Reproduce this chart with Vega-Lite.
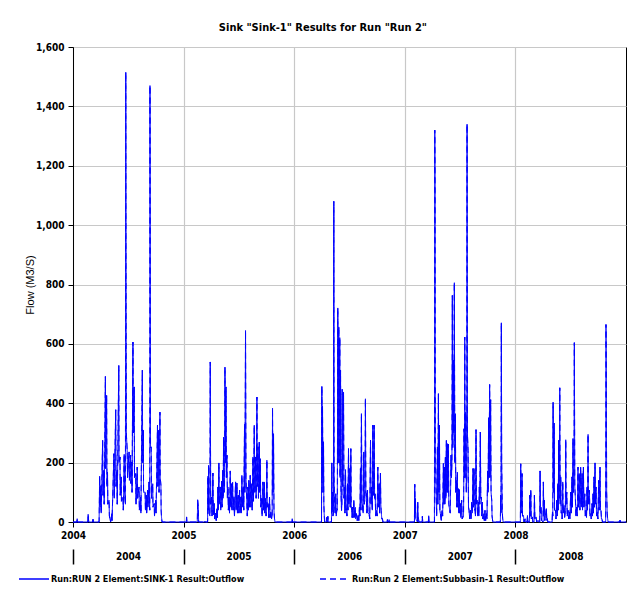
{
  "$schema": "https://vega.github.io/schema/vega-lite/v6.json",
  "width": 553,
  "height": 475,
  "autosize": {"type": "none"},
  "padding": {"left": 73, "top": 47, "right": 14, "bottom": 85},
  "background": "white",
  "title": {
    "text": "Sink \"Sink-1\" Results for Run \"Run 2\"",
    "font": "DejaVu Sans Condensed, Liberation Sans, sans-serif",
    "fontSize": 11,
    "fontWeight": "bold",
    "color": "black",
    "anchor": "middle",
    "frame": "bounds",
    "offset": 9
  },
  "data": {
    "values": [
      {"t":2004.000,"f":0},{"t":2004.035,"f":0},{"t":2004.038,"f":11},{"t":2004.041,"f":0},{"t":2004.134,"f":0},{"t":2004.137,"f":26},{"t":2004.142,"f":0},{"t":2004.178,"f":0},{"t":2004.181,"f":9},{"t":2004.184,"f":0},
      {"t":2004.236,"f":0},{"t":2004.241,"f":154},{"t":2004.244,"f":50},{"t":2004.252,"f":123},{"t":2004.255,"f":30},{"t":2004.268,"f":275},{"t":2004.271,"f":90},{"t":2004.279,"f":174},{"t":2004.282,"f":60},{"t":2004.293,"f":490},{"t":2004.296,"f":180},{"t":2004.304,"f":427},{"t":2004.307,"f":120},{"t":2004.312,"f":168},{"t":2004.315,"f":60},{"t":2004.326,"f":73},{"t":2004.329,"f":20},{"t":2004.340,"f":0},{"t":2004.351,"f":28},{"t":2004.353,"f":5},{"t":2004.370,"f":230},{"t":2004.373,"f":80},{"t":2004.386,"f":378},{"t":2004.389,"f":120},{"t":2004.397,"f":174},{"t":2004.400,"f":60},{"t":2004.414,"f":527},{"t":2004.416,"f":200},{"t":2004.425,"f":219},{"t":2004.427,"f":90},{"t":2004.436,"f":152},{"t":2004.438,"f":70},{"t":2004.452,"f":84},{"t":2004.455,"f":40},{"t":2004.463,"f":228},{"t":2004.466,"f":100},{"t":2004.474,"f":60},{"t":2004.477,"f":1515},{"t":2004.479,"f":970},{"t":2004.482,"f":300},{"t":2004.490,"f":241},{"t":2004.493,"f":150},{"t":2004.507,"f":236},{"t":2004.510,"f":140},{"t":2004.521,"f":225},{"t":2004.523,"f":130},{"t":2004.532,"f":202},{"t":2004.534,"f":100},{"t":2004.542,"f":606},{"t":2004.545,"f":300},{"t":2004.553,"f":455},{"t":2004.556,"f":150},{"t":2004.567,"f":163},{"t":2004.570,"f":60},{"t":2004.581,"f":185},{"t":2004.584,"f":80},{"t":2004.597,"f":118},{"t":2004.600,"f":40},{"t":2004.611,"f":84},{"t":2004.614,"f":30},{"t":2004.627,"f":511},{"t":2004.630,"f":200},{"t":2004.636,"f":309},{"t":2004.638,"f":100},{"t":2004.652,"f":101},{"t":2004.655,"f":40},{"t":2004.663,"f":90},{"t":2004.666,"f":30},{"t":2004.674,"f":107},{"t":2004.677,"f":50},{"t":2004.688,"f":135},{"t":2004.690,"f":60},{"t":2004.694,"f":40},{"t":2004.696,"f":1470},{"t":2004.699,"f":783},{"t":2004.701,"f":250},{"t":2004.707,"f":253},{"t":2004.710,"f":80},{"t":2004.721,"f":129},{"t":2004.723,"f":50},{"t":2004.734,"f":62},{"t":2004.737,"f":20},{"t":2004.748,"f":73},{"t":2004.751,"f":30},{"t":2004.764,"f":326},{"t":2004.767,"f":120},{"t":2004.775,"f":309},{"t":2004.778,"f":100},{"t":2004.786,"f":370},{"t":2004.789,"f":150},{"t":2004.795,"f":123},{"t":2004.797,"f":40},{"t":2004.800,"f":17},{"t":2004.805,"f":0},
      {"t":2005.000,"f":0},{"t":2005.024,"f":0},{"t":2005.027,"f":17},{"t":2005.030,"f":0},{"t":2005.124,"f":0},{"t":2005.127,"f":75},{"t":2005.133,"f":50},{"t":2005.136,"f":0},{"t":2005.191,"f":0},{"t":2005.193,"f":3},{"t":2005.196,"f":0},
      {"t":2005.217,"f":0},{"t":2005.220,"f":154},{"t":2005.223,"f":40},{"t":2005.226,"f":191},{"t":2005.230,"f":30},{"t":2005.238,"f":20},{"t":2005.241,"f":539},{"t":2005.245,"f":60},{"t":2005.253,"f":84},{"t":2005.257,"f":20},{"t":2005.265,"f":165},{"t":2005.269,"f":25},{"t":2005.277,"f":62},{"t":2005.281,"f":10},{"t":2005.289,"f":30},{"t":2005.295,"f":5},{"t":2005.302,"f":45},{"t":2005.306,"f":15},{"t":2005.310,"f":118},{"t":2005.314,"f":40},{"t":2005.319,"f":199},{"t":2005.323,"f":60},{"t":2005.332,"f":118},{"t":2005.336,"f":40},{"t":2005.344,"f":138},{"t":2005.348,"f":50},{"t":2005.353,"f":174},{"t":2005.357,"f":80},{"t":2005.362,"f":286},{"t":2005.366,"f":100},{"t":2005.370,"f":120},{"t":2005.374,"f":522},{"t":2005.378,"f":200},{"t":2005.383,"f":455},{"t":2005.387,"f":150},{"t":2005.392,"f":225},{"t":2005.396,"f":80},{"t":2005.401,"f":118},{"t":2005.405,"f":40},{"t":2005.410,"f":84},{"t":2005.415,"f":30},{"t":2005.422,"f":172},{"t":2005.426,"f":50},{"t":2005.431,"f":129},{"t":2005.436,"f":40},{"t":2005.443,"f":134},{"t":2005.448,"f":40},{"t":2005.455,"f":84},{"t":2005.460,"f":20},{"t":2005.470,"f":135},{"t":2005.475,"f":40},{"t":2005.482,"f":131},{"t":2005.487,"f":30},{"t":2005.494,"f":90},{"t":2005.499,"f":30},{"t":2005.506,"f":107},{"t":2005.511,"f":30},{"t":2005.518,"f":84},{"t":2005.522,"f":30},{"t":2005.527,"f":157},{"t":2005.532,"f":50},{"t":2005.539,"f":118},{"t":2005.544,"f":40},{"t":2005.551,"f":329},{"t":2005.554,"f":100},{"t":2005.560,"f":645},{"t":2005.564,"f":150},{"t":2005.572,"f":62},{"t":2005.576,"f":20},{"t":2005.581,"f":118},{"t":2005.585,"f":40},{"t":2005.590,"f":140},{"t":2005.595,"f":50},{"t":2005.603,"f":157},{"t":2005.608,"f":50},{"t":2005.615,"f":129},{"t":2005.620,"f":40},{"t":2005.627,"f":219},{"t":2005.632,"f":70},{"t":2005.639,"f":326},{"t":2005.644,"f":100},{"t":2005.651,"f":219},{"t":2005.656,"f":80},{"t":2005.663,"f":421},{"t":2005.667,"f":120},{"t":2005.672,"f":253},{"t":2005.677,"f":80},{"t":2005.684,"f":269},{"t":2005.688,"f":100},{"t":2005.693,"f":213},{"t":2005.698,"f":50},{"t":2005.705,"f":79},{"t":2005.710,"f":20},{"t":2005.717,"f":135},{"t":2005.722,"f":40},{"t":2005.729,"f":135},{"t":2005.734,"f":30},{"t":2005.741,"f":79},{"t":2005.746,"f":20},{"t":2005.753,"f":208},{"t":2005.757,"f":50},{"t":2005.765,"f":62},{"t":2005.770,"f":15},{"t":2005.777,"f":84},{"t":2005.782,"f":15},{"t":2005.789,"f":34},{"t":2005.795,"f":10},{"t":2005.801,"f":20},{"t":2005.804,"f":384},{"t":2005.808,"f":100},{"t":2005.813,"f":297},{"t":2005.817,"f":40},{"t":2005.822,"f":11},{"t":2005.826,"f":0},{"t":2005.979,"f":0},{"t":2005.982,"f":11},{"t":2005.985,"f":0},
      {"t":2006.000,"f":0},{"t":2006.247,"f":0},{"t":2006.250,"f":457},{"t":2006.253,"f":150},{"t":2006.256,"f":390},{"t":2006.260,"f":100},{"t":2006.265,"f":270},{"t":2006.268,"f":60},{"t":2006.271,"f":28},{"t":2006.275,"f":0},{"t":2006.290,"f":0},{"t":2006.292,"f":15},{"t":2006.296,"f":0},{"t":2006.302,"f":0},{"t":2006.304,"f":19},{"t":2006.308,"f":0},{"t":2006.337,"f":0},{"t":2006.340,"f":199},{"t":2006.343,"f":40},{"t":2006.346,"f":101},{"t":2006.350,"f":20},{"t":2006.355,"f":30},{"t":2006.358,"f":1080},{"t":2006.361,"f":150},{"t":2006.365,"f":60},{"t":2006.370,"f":30},{"t":2006.376,"f":95},{"t":2006.380,"f":20},{"t":2006.385,"f":39},{"t":2006.390,"f":40},{"t":2006.394,"f":721},{"t":2006.397,"f":200},{"t":2006.403,"f":657},{"t":2006.406,"f":200},{"t":2006.412,"f":621},{"t":2006.415,"f":150},{"t":2006.419,"f":511},{"t":2006.423,"f":100},{"t":2006.428,"f":39},{"t":2006.431,"f":60},{"t":2006.434,"f":447},{"t":2006.438,"f":120},{"t":2006.446,"f":438},{"t":2006.450,"f":80},{"t":2006.455,"f":118},{"t":2006.459,"f":30},{"t":2006.464,"f":176},{"t":2006.468,"f":40},{"t":2006.473,"f":45},{"t":2006.477,"f":20},{"t":2006.482,"f":129},{"t":2006.486,"f":40},{"t":2006.491,"f":247},{"t":2006.495,"f":60},{"t":2006.503,"f":180},{"t":2006.507,"f":50},{"t":2006.512,"f":247},{"t":2006.516,"f":50},{"t":2006.521,"f":39},{"t":2006.524,"f":15},{"t":2006.527,"f":50},{"t":2006.532,"f":15},{"t":2006.539,"f":73},{"t":2006.544,"f":15},{"t":2006.551,"f":50},{"t":2006.556,"f":10},{"t":2006.563,"f":28},{"t":2006.570,"f":5},{"t":2006.578,"f":22},{"t":2006.584,"f":5},{"t":2006.590,"f":50},{"t":2006.594,"f":20},{"t":2006.599,"f":180},{"t":2006.603,"f":40},{"t":2006.608,"f":365},{"t":2006.612,"f":80},{"t":2006.620,"f":39},{"t":2006.624,"f":30},{"t":2006.629,"f":236},{"t":2006.634,"f":60},{"t":2006.640,"f":80},{"t":2006.644,"f":415},{"t":2006.648,"f":100},{"t":2006.653,"f":95},{"t":2006.657,"f":30},{"t":2006.662,"f":107},{"t":2006.667,"f":30},{"t":2006.677,"f":28},{"t":2006.683,"f":10},{"t":2006.690,"f":275},{"t":2006.695,"f":60},{"t":2006.702,"f":118},{"t":2006.706,"f":40},{"t":2006.711,"f":326},{"t":2006.716,"f":90},{"t":2006.723,"f":326},{"t":2006.727,"f":80},{"t":2006.732,"f":95},{"t":2006.737,"f":20},{"t":2006.744,"f":39},{"t":2006.750,"f":20},{"t":2006.756,"f":185},{"t":2006.760,"f":50},{"t":2006.768,"f":129},{"t":2006.772,"f":30},{"t":2006.780,"f":165},{"t":2006.783,"f":60},{"t":2006.786,"f":39},{"t":2006.792,"f":10},{"t":2006.798,"f":11},{"t":2006.802,"f":0},{"t":2006.840,"f":0},{"t":2006.843,"f":8},{"t":2006.847,"f":0},{"t":2006.855,"f":0},{"t":2006.858,"f":8},{"t":2006.862,"f":0},
      {"t":2007.000,"f":0},{"t":2007.087,"f":0},{"t":2007.090,"f":127},{"t":2007.093,"f":30},{"t":2007.096,"f":79},{"t":2007.100,"f":10},{"t":2007.114,"f":0},{"t":2007.117,"f":67},{"t":2007.120,"f":10},{"t":2007.123,"f":15},{"t":2007.127,"f":0},{"t":2007.156,"f":0},{"t":2007.159,"f":19},{"t":2007.162,"f":0},{"t":2007.213,"f":0},{"t":2007.216,"f":21},{"t":2007.219,"f":0},{"t":2007.268,"f":0},{"t":2007.271,"f":1320},{"t":2007.274,"f":1110},{"t":2007.277,"f":200},{"t":2007.283,"f":87},{"t":2007.288,"f":20},{"t":2007.295,"f":253},{"t":2007.299,"f":60},{"t":2007.304,"f":432},{"t":2007.308,"f":100},{"t":2007.313,"f":326},{"t":2007.317,"f":40},{"t":2007.322,"f":28},{"t":2007.330,"f":5},{"t":2007.337,"f":39},{"t":2007.342,"f":20},{"t":2007.349,"f":197},{"t":2007.353,"f":60},{"t":2007.358,"f":185},{"t":2007.362,"f":60},{"t":2007.367,"f":219},{"t":2007.371,"f":80},{"t":2007.376,"f":275},{"t":2007.380,"f":100},{"t":2007.385,"f":264},{"t":2007.389,"f":100},{"t":2007.394,"f":262},{"t":2007.398,"f":60},{"t":2007.406,"f":39},{"t":2007.411,"f":30},{"t":2007.418,"f":225},{"t":2007.422,"f":150},{"t":2007.426,"f":200},{"t":2007.430,"f":763},{"t":2007.434,"f":250},{"t":2007.439,"f":545},{"t":2007.443,"f":300},{"t":2007.448,"f":806},{"t":2007.452,"f":200},{"t":2007.457,"f":365},{"t":2007.461,"f":100},{"t":2007.466,"f":140},{"t":2007.470,"f":50},{"t":2007.475,"f":168},{"t":2007.479,"f":50},{"t":2007.484,"f":112},{"t":2007.488,"f":30},{"t":2007.493,"f":109},{"t":2007.497,"f":30},{"t":2007.502,"f":62},{"t":2007.507,"f":15},{"t":2007.514,"f":73},{"t":2007.519,"f":10},{"t":2007.526,"f":17},{"t":2007.531,"f":20},{"t":2007.536,"f":314},{"t":2007.539,"f":150},{"t":2007.542,"f":623},{"t":2007.546,"f":150},{"t":2007.551,"f":371},{"t":2007.556,"f":100},{"t":2007.560,"f":150},{"t":2007.563,"f":1340},{"t":2007.566,"f":300},{"t":2007.572,"f":241},{"t":2007.576,"f":50},{"t":2007.581,"f":39},{"t":2007.587,"f":10},{"t":2007.593,"f":39},{"t":2007.599,"f":10},{"t":2007.605,"f":67},{"t":2007.610,"f":30},{"t":2007.617,"f":180},{"t":2007.621,"f":50},{"t":2007.626,"f":180},{"t":2007.630,"f":40},{"t":2007.635,"f":42},{"t":2007.639,"f":20},{"t":2007.644,"f":311},{"t":2007.648,"f":60},{"t":2007.653,"f":73},{"t":2007.658,"f":20},{"t":2007.665,"f":67},{"t":2007.669,"f":20},{"t":2007.674,"f":118},{"t":2007.678,"f":60},{"t":2007.683,"f":303},{"t":2007.687,"f":80},{"t":2007.692,"f":84},{"t":2007.696,"f":20},{"t":2007.701,"f":67},{"t":2007.706,"f":10},{"t":2007.713,"f":28},{"t":2007.719,"f":5},{"t":2007.725,"f":39},{"t":2007.731,"f":5},{"t":2007.737,"f":28},{"t":2007.743,"f":10},{"t":2007.749,"f":172},{"t":2007.753,"f":100},{"t":2007.758,"f":351},{"t":2007.762,"f":150},{"t":2007.767,"f":463},{"t":2007.771,"f":150},{"t":2007.776,"f":412},{"t":2007.780,"f":100},{"t":2007.786,"f":73},{"t":2007.789,"f":20},{"t":2007.792,"f":11},{"t":2007.796,"f":0},{"t":2007.864,"f":0},{"t":2007.867,"f":90},{"t":2007.870,"f":30},{"t":2007.873,"f":671},{"t":2007.876,"f":200},{"t":2007.879,"f":118},{"t":2007.882,"f":30},{"t":2007.885,"f":11},{"t":2007.889,"f":0},
      {"t":2008.000,"f":0},{"t":2008.045,"f":0},{"t":2008.048,"f":196},{"t":2008.052,"f":30},{"t":2008.060,"f":163},{"t":2008.064,"f":20},{"t":2008.073,"f":22},{"t":2008.078,"f":0},{"t":2008.088,"f":11},{"t":2008.092,"f":0},{"t":2008.106,"f":0},{"t":2008.109,"f":22},{"t":2008.113,"f":0},{"t":2008.127,"f":0},{"t":2008.130,"f":90},{"t":2008.134,"f":20},{"t":2008.139,"f":107},{"t":2008.143,"f":10},{"t":2008.154,"f":17},{"t":2008.158,"f":0},{"t":2008.169,"f":0},{"t":2008.172,"f":90},{"t":2008.176,"f":10},{"t":2008.187,"f":17},{"t":2008.192,"f":0},{"t":2008.205,"f":6},{"t":2008.210,"f":0},{"t":2008.220,"f":0},{"t":2008.223,"f":172},{"t":2008.227,"f":30},{"t":2008.232,"f":50},{"t":2008.236,"f":5},{"t":2008.250,"f":0},{"t":2008.253,"f":135},{"t":2008.257,"f":20},{"t":2008.262,"f":73},{"t":2008.266,"f":5},{"t":2008.280,"f":45},{"t":2008.284,"f":5},{"t":2008.289,"f":11},{"t":2008.293,"f":0},{"t":2008.332,"f":0},{"t":2008.335,"f":34},{"t":2008.338,"f":20},{"t":2008.341,"f":403},{"t":2008.345,"f":100},{"t":2008.350,"f":333},{"t":2008.354,"f":40},{"t":2008.362,"f":39},{"t":2008.367,"f":10},{"t":2008.374,"f":73},{"t":2008.378,"f":20},{"t":2008.383,"f":129},{"t":2008.387,"f":40},{"t":2008.392,"f":275},{"t":2008.396,"f":80},{"t":2008.401,"f":452},{"t":2008.405,"f":60},{"t":2008.410,"f":152},{"t":2008.414,"f":30},{"t":2008.419,"f":34},{"t":2008.423,"f":10},{"t":2008.428,"f":135},{"t":2008.432,"f":30},{"t":2008.440,"f":56},{"t":2008.445,"f":15},{"t":2008.452,"f":40},{"t":2008.455,"f":277},{"t":2008.459,"f":60},{"t":2008.464,"f":101},{"t":2008.469,"f":20},{"t":2008.476,"f":39},{"t":2008.481,"f":10},{"t":2008.488,"f":34},{"t":2008.493,"f":10},{"t":2008.500,"f":101},{"t":2008.505,"f":30},{"t":2008.512,"f":152},{"t":2008.516,"f":50},{"t":2008.521,"f":281},{"t":2008.525,"f":100},{"t":2008.530,"f":150},{"t":2008.533,"f":604},{"t":2008.537,"f":120},{"t":2008.542,"f":84},{"t":2008.547,"f":20},{"t":2008.554,"f":50},{"t":2008.559,"f":20},{"t":2008.566,"f":185},{"t":2008.570,"f":50},{"t":2008.578,"f":163},{"t":2008.583,"f":40},{"t":2008.590,"f":185},{"t":2008.595,"f":50},{"t":2008.603,"f":163},{"t":2008.607,"f":40},{"t":2008.615,"f":185},{"t":2008.619,"f":50},{"t":2008.627,"f":95},{"t":2008.632,"f":20},{"t":2008.639,"f":39},{"t":2008.643,"f":15},{"t":2008.648,"f":118},{"t":2008.652,"f":40},{"t":2008.657,"f":295},{"t":2008.661,"f":60},{"t":2008.669,"f":107},{"t":2008.674,"f":20},{"t":2008.681,"f":28},{"t":2008.686,"f":10},{"t":2008.693,"f":62},{"t":2008.697,"f":20},{"t":2008.702,"f":95},{"t":2008.706,"f":30},{"t":2008.711,"f":152},{"t":2008.715,"f":50},{"t":2008.720,"f":199},{"t":2008.724,"f":60},{"t":2008.729,"f":118},{"t":2008.734,"f":20},{"t":2008.741,"f":34},{"t":2008.746,"f":10},{"t":2008.753,"f":140},{"t":2008.757,"f":40},{"t":2008.765,"f":185},{"t":2008.769,"f":40},{"t":2008.774,"f":39},{"t":2008.778,"f":10},{"t":2008.783,"f":11},{"t":2008.787,"f":0},{"t":2008.816,"f":0},{"t":2008.819,"f":665},{"t":2008.822,"f":508},{"t":2008.825,"f":100},{"t":2008.830,"f":30},{"t":2008.834,"f":11},{"t":2008.838,"f":0},{"t":2008.943,"f":0},{"t":2008.946,"f":6},{"t":2008.950,"f":0},{"t":2008.999,"f":0}
    ]
  },
  "layer": [
    {
      "mark": {"type": "line", "color": "#0000ff", "strokeWidth": 1},
      "encoding": {
        "x": {
          "field": "t", "type": "quantitative",
          "scale": {"domain": [2004, 2009], "nice": false, "zero": false},
          "axis": {
            "values": [2004, 2005, 2006, 2007, 2008], "format": "d", "title": null,
            "grid": true, "tickSize": 5, "labelPadding": 3, "labelFlush": false, "labelOverlap": false
          }
        },
        "y": {
          "field": "f", "type": "quantitative",
          "scale": {"domain": [0, 1600], "nice": false},
          "axis": {
            "values": [0, 200, 400, 600, 800, 1000, 1200, 1400, 1600], "format": ",d",
            "title": "Flow  (M3/S)", "tickSize": 5, "labelPadding": 4, "titlePadding": 0,
            "titleFont": "Liberation Sans", "titleFontSize": 11, "titleFontWeight": "normal"
          }
        },
        "strokeDash": {
          "datum": "Run:RUN 2 Element:SINK-1 Result:Outflow",
          "type": "nominal",
          "scale": {
            "domain": ["Run:RUN 2 Element:SINK-1 Result:Outflow", "Run:Run 2 Element:Subbasin-1 Result:Outflow"],
            "range": [[1, 0], [6, 4]]
          },
          "legend": {
            "orient": "none", "legendX": -55, "legendY": 516,
            "direction": "horizontal", "title": null,
            "symbolType": "stroke", "symbolSize": 900, "symbolStrokeWidth": 1.5, "symbolStrokeColor": "#0000ff",
            "labelFont": "DejaVu Sans Condensed, Liberation Sans, sans-serif", "labelFontSize": 9, "labelFontWeight": "bold", "labelColor": "black",
            "labelOffset": 1, "columnPadding": 72, "labelLimit": 400
          }
        }
      }
    },
    {
      "mark": {"type": "line", "color": "#0000ff", "strokeWidth": 1},
      "encoding": {
        "x": {
          "field": "t", "type": "quantitative",
          "scale": {"domain": [2004, 2009], "nice": false, "zero": false},
          "axis": {
            "orient": "bottom", "offset": 27,
            "values": [2004, 2005, 2006, 2007, 2008], "format": "d", "title": null,
            "grid": false, "domain": false, "tickSize": 15, "tickWidth": 1.5, "labelPadding": -13,
            "labelOffset": 55, "labelFlush": false, "labelOverlap": false
          }
        },
        "y": {"field": "f", "type": "quantitative"},
        "strokeDash": {"datum": "Run:Run 2 Element:Subbasin-1 Result:Outflow", "type": "nominal"}
      }
    }
  ],
  "resolve": {"scale": {"x": "independent"}},
  "config": {
    "view": {"stroke": "black", "strokeWidth": 1},
    "axis": {
      "labelFont": "DejaVu Sans Condensed, Liberation Sans, sans-serif", "labelFontSize": 10, "labelFontWeight": "bold", "labelColor": "black",
      "tickColor": "black", "domainColor": "black", "gridColor": "#c8c8c8", "gridWidth": 1.2,
      "titleColor": "black"
    }
  }
}
